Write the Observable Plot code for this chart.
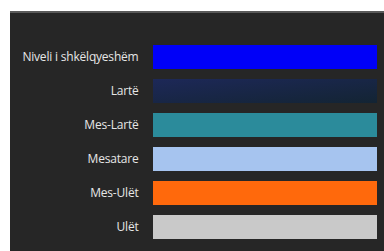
<!DOCTYPE html>
<html><head><meta charset="utf-8">
<script src="https://cdn.jsdelivr.net/npm/d3@7"></script>
<script src="https://cdn.jsdelivr.net/npm/@observablehq/plot@0.6"></script>
<style>
html,body{margin:0;padding:0;background:#fff;width:384px;height:251px;overflow:hidden}
#panel{position:absolute;left:10px;top:11px;width:374px;height:240px;background:#262626;border-top:2px solid #5a5a5a;box-sizing:border-box}
#panel svg{position:absolute;left:0;top:-2px}
</style></head><body>
<div id="panel"></div>
<script>
const categories = ["Niveli i shkëlqyeshëm","Lartë","Mes-Lartë","Mesatare","Mes-Ulët","Ulët"];
const values = [1,1,1,1,1,1];
const colors = ["#0000f8","url(#navyGrad)","#2b8b9b","#a6c4ef","#ff690c","#c9c9c9"];
const data = categories.map((c,i)=>({c, v: values[i]}));
const chart = Plot.plot({
  width: 374, height: 240,
  marginLeft: 143, marginRight: 7, marginTop: 23, marginBottom: 1,
  style: {background: "transparent", color: "#e6e6e6", fontFamily: "'Open Sans',sans-serif", fontSize: "12px"},
  x: {domain: [0,1], axis: null},
  y: {domain: categories, padding: 0.29, label: null, tickSize: 0, tickPadding: 15},
  color: {domain: categories, range: colors},
  marks: [
    Plot.barX(data, {x: "v", y: "c", fill: "c"})
  ]
});
const ns = "http://www.w3.org/2000/svg";
const defs = document.createElementNS(ns, "defs");
defs.innerHTML = '<linearGradient id="navyGrad" x1="0" y1="0" x2="1" y2="1"><stop offset="0" stop-color="#1d2858"/><stop offset="1" stop-color="#132433"/></linearGradient>';
chart.insertBefore(defs, chart.firstChild);
chart.querySelectorAll("[aria-label='y-axis tick label'] text").forEach(t => t.setAttribute("letter-spacing", "-0.2"));
document.getElementById("panel").appendChild(chart);
</script>
</body></html>
